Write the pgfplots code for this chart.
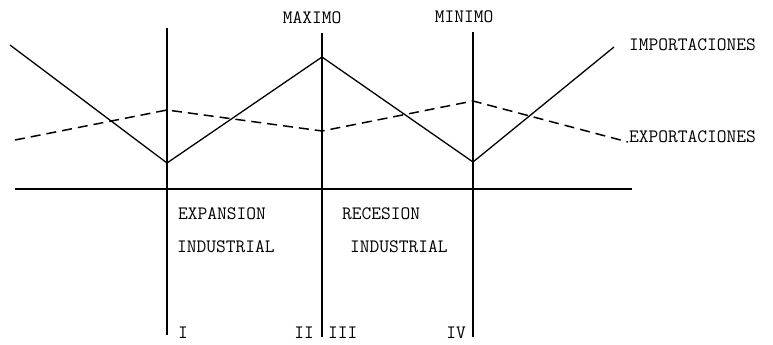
\documentclass[border=0pt]{standalone}
\usepackage{pgfplots}
\pgfplotsset{compat=1.18}
\tikzset{lbl/.style={font=\ttfamily\fontsize{19}{22}\selectfont, inner sep=0pt}}

\begin{document}
\begin{tikzpicture}
\begin{axis}[
    x=1bp, y=1bp,
    xmin=0, xmax=773, ymin=0, ymax=344,
    hide axis, clip=false,
  ]
  % frame of the page
  \addplot[draw=none] coordinates {(0,0) (773,344)};
  % base line and phase separators
  \addplot[black, line width=1.5bp] coordinates {(15,155) (632,155)};
  \addplot[black, line width=2bp] coordinates {(167,316) (167,9)};
  \addplot[black, line width=2bp] coordinates {(322,311) (322,7)};
  \addplot[black, line width=2bp] coordinates {(473,312) (473,7)};
  % importaciones
  \addplot[black, line width=1.3bp] coordinates {
    (10,299) (167,181) (322,287) (473,182) (614,297)};
  % exportaciones
  \addplot[black, line width=1.5bp, dash pattern=on 10bp off 6bp] coordinates {
    (15,204) (167,234) (322,213) (473,243) (628,202)};

  \node[lbl] at (axis cs:312,326.5) {MAXIMO};
  \node[lbl] at (axis cs:464,327.5) {MINIMO};
  \node[lbl, anchor=west] at (axis cs:629,299) {IMPORTACIONES};
  \node[lbl, anchor=west] at (axis cs:629,207) {EXPORTACIONES};
  \node[lbl, anchor=west] at (axis cs:178,130) {EXPANSION};
  \node[lbl, anchor=west] at (axis cs:177,97) {INDUSTRIAL};
  \node[lbl, anchor=west] at (axis cs:342,130) {RECESION};
  \node[lbl, anchor=west] at (axis cs:350,97) {INDUSTRIAL};
  \node[lbl, anchor=west] at (axis cs:178,11) {I};
  \node[lbl, anchor=east] at (axis cs:314,11) {II};
  \node[lbl, anchor=west] at (axis cs:328,11) {III};
  \node[lbl, anchor=east] at (axis cs:466,11) {IV};
\end{axis}
\end{tikzpicture}
\end{document}
